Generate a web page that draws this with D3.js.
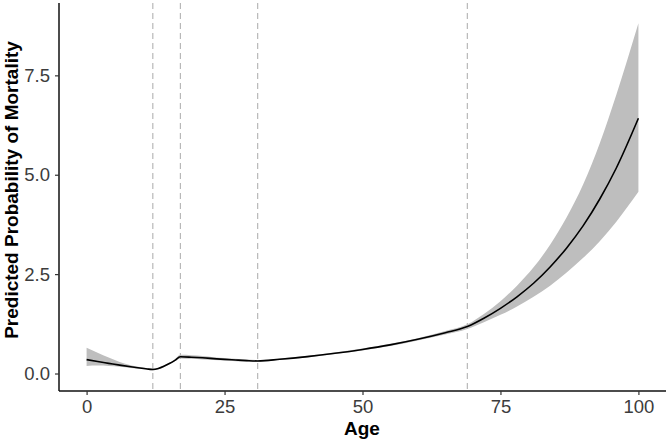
<!DOCTYPE html>
<html>
<head>
<meta charset="utf-8">
<script src="https://cdn.jsdelivr.net/npm/d3@7"></script>
<style>
  html, body { margin: 0; padding: 0; background: #fff; }
  svg { display: block; font-family: "Liberation Sans", Arial, sans-serif; }
</style>
</head>
<body>
<svg id="chart" width="669" height="442"></svg>
<script>
// ---- data ----
const ages = [0, 2, 4, 6, 8, 10, 11, 12, 13, 14, 15, 16, 17, 19, 21, 23, 25, 27, 29, 31,
              35, 40, 45, 50, 55, 60, 65, 69, 72, 75, 78, 81, 84, 87, 90, 93, 96, 100];
const predicted = [0.35, 0.30, 0.255, 0.21, 0.17, 0.132, 0.112, 0.10, 0.125, 0.18, 0.25, 0.33, 0.42,
                   0.41, 0.395, 0.375, 0.355, 0.34, 0.325, 0.315,
                   0.357, 0.425, 0.508, 0.605, 0.72, 0.86, 1.025, 1.18,
                   1.39, 1.64, 1.93, 2.27, 2.68, 3.16, 3.72, 4.39, 5.17, 6.42];
const upperCI = [0.65, 0.52, 0.40, 0.29, 0.21, 0.155, 0.13, 0.12, 0.145, 0.20, 0.27, 0.36, 0.47,
                 0.46, 0.44, 0.41, 0.39, 0.37, 0.35, 0.34,
                 0.38, 0.445, 0.53, 0.63, 0.75, 0.89, 1.07, 1.24,
                 1.50, 1.82, 2.21, 2.67, 3.24, 3.93, 4.76, 5.79, 7.01, 8.81];
const lowerCI = [0.19, 0.20, 0.19, 0.17, 0.14, 0.112, 0.095, 0.08, 0.105, 0.16, 0.23, 0.31, 0.38,
                 0.37, 0.355, 0.34, 0.325, 0.31, 0.30, 0.29,
                 0.34, 0.405, 0.49, 0.58, 0.69, 0.83, 0.98, 1.12,
                 1.29, 1.475, 1.686, 1.93, 2.21, 2.54, 2.91, 3.33, 3.82, 4.57];
const knots = [12, 17, 31, 69];
const xTicks = [0, 25, 50, 75, 100];
const yTicks = [0, 2.5, 5, 7.5];
const xTitle = "Age";
const yTitle = "Predicted Probability of Mortality";

const rows = ages.map((a, i) => ({ age: a, fit: predicted[i], lo: lowerCI[i], hi: upperCI[i] }));

// ---- layout ----
const svg = d3.select("#chart");
const mLeft = 59, mRight = 666, mTop = 3, mBottom = 391;

const x = d3.scaleLinear().domain([-5, 105]).range([mLeft, mRight]);
const y = d3.scaleLinear().domain([-0.44, 9.32]).range([mBottom, mTop]);

// ribbon
svg.append("path")
  .datum(rows)
  .attr("fill", "#bebebe")
  .attr("d", d3.area()
    .x(d => x(d.age))
    .y0(d => y(d.lo))
    .y1(d => y(d.hi))
    .curve(d3.curveMonotoneX));

// knot lines
svg.selectAll("line.knot")
  .data(knots)
  .enter().append("line")
  .attr("class", "knot")
  .attr("x1", d => x(d)).attr("x2", d => x(d))
  .attr("y1", mTop).attr("y2", mBottom)
  .attr("stroke", "#b8b8b8")
  .attr("stroke-width", 1.2)
  .attr("stroke-dasharray", "6,4");

// fitted line
svg.append("path")
  .datum(rows)
  .attr("fill", "none")
  .attr("stroke", "#000")
  .attr("stroke-width", 1.6)
  .attr("d", d3.line()
    .x(d => x(d.age))
    .y(d => y(d.fit))
    .curve(d3.curveMonotoneX));

// axes
const xAxis = d3.axisBottom(x).tickValues(xTicks).tickSize(4).tickPadding(5)
  .tickFormat(d3.format("d"));
const yAxis = d3.axisLeft(y).tickValues(yTicks).tickSize(4).tickPadding(5)
  .tickFormat(d3.format(".1f"));

const gx = svg.append("g").attr("transform", `translate(0,${mBottom})`).call(xAxis);
const gy = svg.append("g").attr("transform", `translate(${mLeft},0)`).call(yAxis);

[gx, gy].forEach(g => {
  g.select(".domain").attr("stroke", "#111").attr("stroke-width", 1.5);
  g.selectAll(".tick line").attr("stroke", "#333").attr("stroke-width", 1.2);
  g.selectAll(".tick text").attr("fill", "#3c3c3c").style("font-size", "18.5px")
    .style("font-family", "Liberation Sans, Arial, sans-serif");
});
// ggplot-style axis lines (no end caps)
gx.select(".domain").attr("d", `M${mLeft},0H${mRight}`);
gy.select(".domain").attr("d", `M0,${mTop}V${mBottom}`);

// titles
svg.append("text")
  .attr("x", 362).attr("y", 435)
  .attr("text-anchor", "middle")
  .style("font-size", "19px").style("font-weight", "bold")
  .text(xTitle);

svg.append("text")
  .attr("transform", `translate(18,190) rotate(-90)`)
  .attr("text-anchor", "middle")
  .style("font-size", "19px").style("font-weight", "bold")
  .text(yTitle);
</script>
</body>
</html>
